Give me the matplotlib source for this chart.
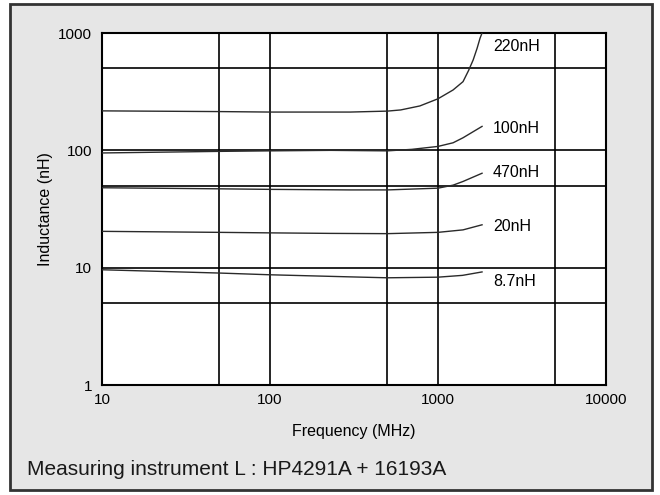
"""Inductance vs. frequency for a chip inductor family (log-log).

Curves read off the datasheet chart, measured with HP4291A + 16193A.
"""
import matplotlib
matplotlib.use("Agg")
import matplotlib.pyplot as plt
from matplotlib.patches import Rectangle

plt.rcParams["font.family"] = ["Liberation Sans", "DejaVu Sans"]

# -- curve data (MHz, nH) --
freq_220 = [10, 50, 100, 300, 500, 600, 780, 1000, 1230, 1410, 1520, 1620, 1710, 1780, 1830]
ind_220 = [217, 214, 212, 212, 216, 221, 239, 275, 327, 385, 478, 589, 741, 902, 1000]

freq_100 = [10, 50, 100, 230, 500, 700, 1000, 1230, 1410, 1830]
ind_100 = [95, 98, 99, 100, 99, 102, 108, 116, 128, 160]

freq_470 = [10, 50, 100, 300, 500, 1000, 1230, 1410, 1830]
ind_470 = [48, 47, 46.5, 46, 46, 47.6, 50.5, 54.3, 63.8]

freq_20 = [10, 50, 100, 230, 500, 1000, 1410, 1830]
ind_20 = [20.4, 20.0, 19.8, 19.6, 19.5, 20.0, 21.0, 23.2]

freq_8n7 = [10, 50, 100, 300, 500, 1000, 1400, 1830]
ind_8n7 = [9.6, 9.0, 8.7, 8.35, 8.2, 8.3, 8.6, 9.2]

series = [
    (freq_220, ind_220),
    (freq_100, ind_100),
    (freq_470, ind_470),
    (freq_20, ind_20),
    (freq_8n7, ind_8n7),
]

# curve labels and where they sit (MHz, nH)
label_names = ["220nH", "100nH", "470nH", "20nH", "8.7nH"]
label_freq = 2125
label_ind = [775, 155, 64.4, 22.3, 7.6]

x_ticks = [10, 100, 1000, 10000]
y_ticks = [1, 10, 100, 1000]
x_grid = [50, 100, 500, 1000, 5000]
y_grid = [5, 10, 50, 100, 500]

fig = plt.figure(figsize=(6.6, 4.95), dpi=100)
fig.patch.set_facecolor("white")

# gray panel with dark border behind everything
panel = Rectangle((0.0152, 0.0101), 0.9727, 0.9818, transform=fig.transFigure,
                  facecolor="#e6e6e6", edgecolor="#333333", linewidth=2.0, zorder=-10)
fig.patches.append(panel)

ax = fig.add_axes([0.1545, 0.2222, 0.7636, 0.7111])
ax.set_facecolor("white")
ax.set_xscale("log")
ax.set_yscale("log")
ax.set_xlim(10, 10000)
ax.set_ylim(1, 1000)

# -- grid at 5x and 10x --
for xv in x_grid:
    ax.axvline(xv, color="black", linewidth=1.2, zorder=1)
for yv in y_grid:
    ax.axhline(yv, color="black", linewidth=1.2, zorder=1)

for f, L in series:
    ax.plot(f, L, color="#2a2a2a", linewidth=1.0, zorder=3)

for name, yv in zip(label_names, label_ind):
    ax.text(label_freq, yv, name, ha="left", va="center", fontsize=11.5, color="black")

ax.set_xticks(x_ticks)
ax.set_xticklabels([str(v) for v in x_ticks])
ax.set_yticks(y_ticks)
ax.set_yticklabels([str(v) for v in y_ticks])
ax.minorticks_off()
ax.tick_params(axis="both", length=0, labelsize=11, colors="black")
ax.tick_params(axis="x", pad=6)
ax.tick_params(axis="y", pad=7)

for sp in ax.spines.values():
    sp.set_color("black")
    sp.set_linewidth(1.5)

ax.set_xlabel("Frequency (MHz)", fontsize=11.5)
ax.set_ylabel("Inductance (nH)", fontsize=11.5)
ax.xaxis.set_label_coords(0.5, -0.111)
ax.yaxis.set_label_coords(-0.097, 0.5)

fig.text(0.041, 0.0404, "Measuring instrument L : HP4291A + 16193A",
         fontsize=15, ha="left", va="baseline", color="#1a1a1a")

fig.savefig("out.png", dpi=100, facecolor=fig.get_facecolor())
plt.close(fig)
